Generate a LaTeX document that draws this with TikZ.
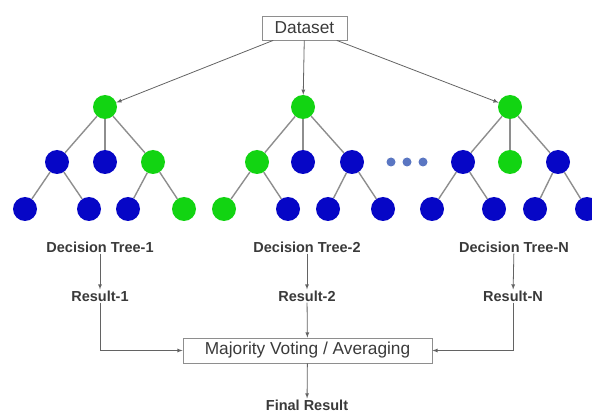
\documentclass[tikz,border=0pt]{standalone}
\usepackage{fontspec}
\setmainfont{Liberation Sans}
\newcommand{\tailleg}{24pt}
\definecolor{vertn}{HTML}{12D412}
\definecolor{bleun}{HTML}{0606C6}
\definecolor{bleup}{HTML}{5A76C2}
\definecolor{trait}{HTML}{8E8E8E}
\definecolor{texte}{HTML}{3A3A3A}
\tikzset{
  vert/.style={circle,fill=vertn,minimum size=\tailleg,inner sep=0pt},
  bleu/.style={circle,fill=bleun,minimum size=\tailleg,inner sep=0pt},
  petit/.style={circle,fill=bleup,minimum size=9pt,inner sep=0pt},
  arete/.style={draw=trait,line width=1.4pt},
  fleche/.style={->,>=latex,draw=trait!70!black,line width=0.8pt},
  etiq/.style={text=texte,font=\fontsize{14.5}{17}\selectfont\bfseries,inner sep=1pt},
  boite/.style={draw=trait,line width=0.8pt,text=texte,font=\fontsize{17.3}{20}\selectfont,inner sep=0pt}
}

\begin{document}
\begin{tikzpicture}[x=1pt,y=-1pt]
        \useasboundingbox (0,0) rectangle (592,414);
        \node[boite,minimum width=85pt,minimum height=24pt] (data) at (304.5,28) {Dataset};
        % arbre 1
        \node[vert] (a1) at (105,107) {};
        \node[bleu] (a1g) at (57,162) {};
        \node[bleu] (a1m) at (105,162) {};
        \node[vert] (a1d) at (153,162) {};
        \node[bleu] (a1gg) at (25,209) {};
        \node[bleu] (a1gd) at (89,209) {};
        \node[bleu] (a1dg) at (128,209) {};
        \node[vert] (a1dd) at (184,209) {};
        \draw[arete] (a1) -- (a1g);
        \draw[arete] (a1) -- (a1m);
        \draw[arete] (a1) -- (a1d);
        \draw[arete] (a1g) -- (a1gg);
        \draw[arete] (a1g) -- (a1gd);
        \draw[arete] (a1d) -- (a1dg);
        \draw[arete] (a1d) -- (a1dd);
        % arbre 2
        \node[vert] (a2) at (303,107) {};
        \node[vert] (a2g) at (257,162) {};
        \node[bleu] (a2m) at (303,162) {};
        \node[bleu] (a2d) at (352,162) {};
        \node[vert] (a2gg) at (224,209) {};
        \node[bleu] (a2gd) at (288,209) {};
        \node[bleu] (a2dg) at (328,209) {};
        \node[bleu] (a2dd) at (383,209) {};
        \draw[arete] (a2) -- (a2g);
        \draw[arete] (a2) -- (a2m);
        \draw[arete] (a2) -- (a2d);
        \draw[arete] (a2g) -- (a2gg);
        \draw[arete] (a2g) -- (a2gd);
        \draw[arete] (a2d) -- (a2dg);
        \draw[arete] (a2d) -- (a2dd);
        % points
        \node[petit] (p1) at (391,162) {};
        \node[petit] (p2) at (407,162) {};
        \node[petit] (p3) at (423,162) {};
        % arbre N
        \node[vert] (aN) at (510,107) {};
        \node[bleu] (aNg) at (463,162) {};
        \node[vert] (aNm) at (510,162) {};
        \node[bleu] (aNd) at (558,162) {};
        \node[bleu] (aNgg) at (432,209) {};
        \node[bleu] (aNgd) at (494,209) {};
        \node[bleu] (aNdg) at (535,209) {};
        \node[bleu] (aNdd) at (587,209) {};
        \draw[arete] (aN) -- (aNg);
        \draw[arete] (aN) -- (aNm);
        \draw[arete] (aN) -- (aNd);
        \draw[arete] (aNg) -- (aNgg);
        \draw[arete] (aNg) -- (aNgd);
        \draw[arete] (aNd) -- (aNdg);
        \draw[arete] (aNd) -- (aNdd);
        \draw[fleche] (data) -- (a1);
        \draw[fleche] (data) -- (a2);
        \draw[fleche] (data) -- (aN);
        % sorties
        \node[etiq] (dt1) at (100,247) {Decision Tree-1};
        \node[etiq] (dt2) at (307,247) {Decision Tree-2};
        \node[etiq] (dtN) at (514,247) {Decision Tree-N};
        \node[etiq] (r1) at (100,296) {Result-1};
        \node[etiq] (r2) at (307,296) {Result-2};
        \node[etiq] (rN) at (513,296) {Result-N};
        \draw[fleche] (dt1) -- (r1);
        \draw[fleche] (dt2) -- (r2);
        \draw[fleche] (dtN) -- (rN);
        \node[boite,minimum width=249pt,minimum height=25pt] (vote) at (307.5,350.5) {Majority Voting / Averaging};
        \draw[fleche] (r1) |- (vote);
        \draw[fleche] (r2) -- (vote);
        \draw[fleche] (rN) |- (vote);
        \node[etiq] (final) at (307,405) {Final Result};
        \draw[fleche] (vote) -- (final);
      \end{tikzpicture}
\end{document}
